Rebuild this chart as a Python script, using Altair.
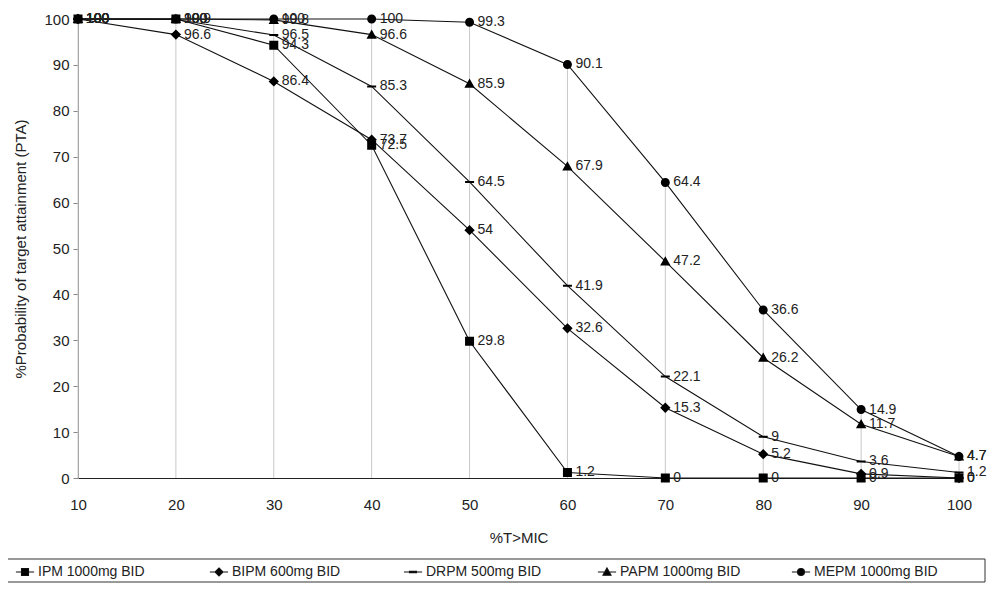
import altair as alt
import pandas as pd

x_vals = [10, 20, 30, 40, 50, 60, 70, 80, 90, 100]
series = ["IPM 1000mg BID", "BIPM 600mg BID", "DRPM 500mg BID", "PAPM 1000mg BID", "MEPM 1000mg BID"]
ipm = [100, 100, 94.3, 72.5, 29.8, 1.2, 0, 0, 0, 0]
bipm = [100, 96.6, 86.4, 73.7, 54, 32.6, 15.3, 5.2, 0.9, 0]
drpm = [100, 99.9, 96.5, 85.3, 64.5, 41.9, 22.1, 9, 3.6, 1.2]
papm = [100, 100, 99.8, 96.6, 85.9, 67.9, 47.2, 26.2, 11.7, 4.7]
mepm = [100, 100, 100, 100, 99.3, 90.1, 64.4, 36.6, 14.9, 4.7]

rows = []
for name, vals in zip(series, [ipm, bipm, drpm, papm, mepm]):
    for xv, v in zip(x_vals, vals):
        rows.append({"x": xv, "v": v, "s": name, "series": name, "lab": f"{v:g}"})
df = pd.DataFrame(rows)

L = "M-2.6,0H2.6"
marker_paths = [
    L + "M-1,-1H1V1H-1Z",
    L + "M0,-1.15L1.15,0L0,1.15L-1.15,0Z",
    L + "M-1,-0.22H1V0.22H-1Z",
    L + "M0,-1.15L1.15,0.9H-1.15Z",
    L + "M-1,0A1,1,0,1,1,1,0A1,1,0,1,1,-1,0Z",
]
line_colors = ["#111111"] * 5

FONT = "Liberation Sans"
xs = alt.Scale(domain=[10, 100], nice=False, zero=False)
ys = alt.Scale(domain=[0, 100], nice=False)

LEG = dict(orient="none", legendX=-71, legendY=541, direction="horizontal", columns=5,
           gridAlign="all", columnPadding=44, title=None, padding=5, symbolSize=49,
           symbolOffset=6, labelOffset=6, labelFontSize=14, labelFont=FONT, labelLimit=300,
           labelColor="#222222")

base = alt.Chart(df)

rules = base.transform_aggregate(mx="max(v)", groupby=["x"]).mark_rule(
    color="#c8c8c8", strokeWidth=1
).encode(
    x=alt.X("x:Q", scale=xs),
    y=alt.Y("mx:Q", scale=ys),
    y2=alt.datum(0),
)

lines = base.mark_line(strokeWidth=1.1).encode(
    x=alt.X("x:Q", scale=xs,
            axis=alt.Axis(values=x_vals, format="d", title="%T>MIC", grid=False,
                          ticks=False, tickSize=0, labelPadding=19, titlePadding=18,
                          labelFlush=False,
                          domainColor="#222222", labelFontSize=15, titleFontSize=15,
                          titleFontWeight="normal", labelColor="#222222",
                          titleColor="#222222", labelFont=FONT, titleFont=FONT)),
    y=alt.Y("v:Q", scale=ys,
            axis=alt.Axis(values=list(range(0, 101, 10)), title="%Probability of target attainment (PTA)",
                          grid=False, tickSize=5, tickColor="#888888", domainColor="#888888",
                          labelPadding=4, titlePadding=15, labelFontSize=15, titleFontSize=15,
                          titleFontWeight="normal", labelColor="#222222", titleColor="#222222",
                          labelFont=FONT, titleFont=FONT)),
    color=alt.Color("series:N", scale=alt.Scale(domain=series, range=line_colors),
                    legend=alt.Legend(symbolType=L, symbolStrokeWidth=1.1, **LEG)),
)

points = base.mark_point(filled=True, color="black", opacity=1).encode(
    x=alt.X("x:Q", scale=xs),
    y=alt.Y("v:Q", scale=ys),
    shape=alt.Shape("s:N", scale=alt.Scale(domain=series, range=marker_paths),
                    legend=alt.Legend(symbolFillColor="black", symbolStrokeWidth=0,
                                      symbolOpacity=1, **LEG)),
    size=alt.value(81),
)

texts = base.mark_text(align="left", baseline="middle", dx=8, fontSize=14,
                       font=FONT, color="#222222").encode(
    x=alt.X("x:Q", scale=xs),
    y=alt.Y("v:Q", scale=ys),
    text="lab:N",
    detail="s:N",
)

legend_box = alt.Chart(pd.DataFrame({"k": [0]})).mark_rect(
    fill=None, stroke="#333333", strokeWidth=1
).encode(
    x=alt.value(-71), x2=alt.value(907), y=alt.value(540), y2=alt.value(563)
)

chart = alt.layer(rules, lines, points, texts, legend_box).properties(
    width=881, height=459,
    autosize=alt.AutoSizeParams(type="none"),
    padding={"left": 70, "top": 11, "right": 28, "bottom": 105},
    background="white",
).configure_view(stroke=None)

chart.save("out.html", embed_options={"renderer": "svg", "actions": False})
